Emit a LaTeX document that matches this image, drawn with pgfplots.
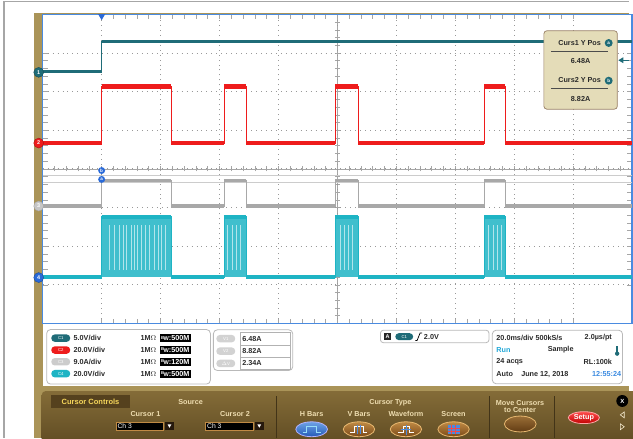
\documentclass[border=0pt]{standalone}
\usepackage{pgfplots}
\pgfplotsset{compat=1.18}
\usepackage{pgfplotstable}
\usepackage{fontspec}
\setmainfont{Liberation Sans}

\definecolor{chA}{HTML}{1F6C78}
\definecolor{chB}{HTML}{EE1C1C}
\definecolor{chC}{HTML}{A8A8A8}
\definecolor{chD}{HTML}{1EB4C4}
\definecolor{frametan}{HTML}{AA9458}
\definecolor{scopeblue}{HTML}{4A8BE0}
\definecolor{markblue}{HTML}{2A6AD8}
\definecolor{bartop}{HTML}{846C38}
\definecolor{barbot}{HTML}{5E4A22}
\definecolor{bartext}{HTML}{EEDDB0}
\definecolor{tabtext}{HTML}{F5D55A}
\definecolor{tabfill}{HTML}{55411E}
\definecolor{boxbeige}{HTML}{E4DCB8}
\definecolor{bronzetop}{HTML}{C08A44}
\definecolor{bronzebot}{HTML}{7A4A18}
\definecolor{bronzeedge}{HTML}{E8B870}
\definecolor{uitext}{HTML}{2A2A2A}
\definecolor{runcyan}{HTML}{22A8D8}
\definecolor{timeblue}{HTML}{3A8AE0}

\newcommand{\ui}{\fontsize{7.3}{8.5}\selectfont\bfseries}
\newcommand{\tinyui}{\fontsize{4.6}{5}\selectfont\bfseries}
\newcommand{\bw}{{\fontsize{4.2}{4}\selectfont\raisebox{1.6pt}{B}}\kern-0.4pt{\fontsize{5.6}{5}\selectfont W}}

% channel data: time (ms, 0 = screen centre) and level (divisions)
\pgfplotstableread{
t y
-100 2.52
-80 3.30
100 3.30
}\chonetab
\pgfplotstableread{
t y
-100 0.67
-80 2.13
-56.5 0.67
-38.5 2.13
-31 0.67
-0.7 2.13
7.1 0.67
49.8 2.13
56.9 0.67
100 0.67
}\chtwotab
\pgfplotstableread{
t y
-100 -0.96
-80 -0.29
-56.5 -0.96
-38.5 -0.29
-31 -0.96
-0.7 -0.29
7.1 -0.96
49.8 -0.29
56.9 -0.96
100 -0.96
}\chthreetab
\pgfplotstableread{
t y
-100 -2.80
-80 -1.24
-56.5 -2.80
-38.5 -1.24
-31 -2.80
-0.7 -1.24
7.1 -2.80
49.8 -1.24
56.9 -2.80
100 -2.80
}\chfourtab

\pgfplotsset{scopeaxis/.style={at={(43pt,-14.5pt)}, anchor=north west,
  scale only axis, width=594pt, height=311.5pt,
  xmin=-100, xmax=100, ymin=-4, ymax=4,
  xticklabels={}, yticklabels={}}}

\begin{document}
\begin{tikzpicture}
\begin{scope}[x=1pt,y=-1pt]
\useasboundingbox (0,0) rectangle (633,440);
\fill[white] (0,0) rectangle (633,440);
\draw[gray!70, line width=1.3pt] (4,441) -- (4,1.6) -- (634,1.6);
\fill[frametan] (34,13) rectangle (634,441);
\fill[white] (43,14) rectangle (634,388.5);
\shade[top color=bartop, bottom color=barbot, rounded corners=4pt] (42,394) rectangle (650,450);
\end{scope}

% centre crosshair
\begin{axis}[scopeaxis, axis lines=middle,
  axis line style={gray!70, line width=0.8pt, -},
  xtick={-96,-92,...,96}, ytick={-3.8,-3.6,...,3.8},
  tick align=center, major tick length=5pt,
  tick style={gray!70, line width=0.7pt}]
\end{axis}

% main scope axis
\begin{axis}[scopeaxis,
  xtick={-80,-60,...,80}, ytick={-3,-2,...,3},
  minor x tick num=4, minor y tick num=4,
  tick align=inside, major tick length=5pt, minor tick length=5pt,
  tick style={gray!70, line width=0.7pt},
  grid=major, major grid style={gray!80, line width=1pt, dash pattern=on 1pt off 4pt},
  axis line style={scopeblue, line width=1.6pt},
  clip mode=individual]
% cursor bars
\addplot[gray!40, line width=1pt] coordinates {(-100,-0.17) (100,-0.17)};
\addplot[gray!40, line width=1pt] coordinates {(-100,-0.35) (100,-0.35)};
% channel 1
\addplot[chA, line width=0.8pt, const plot] table[x=t,y=y] {\chonetab};
\addplot[chA, line width=3.5pt, jump mark left] table[x=t,y=y] {\chonetab};
% channel 2
\addplot[chB, line width=0.8pt, const plot] table[x=t,y=y] {\chtwotab};
\addplot[chB, line width=4.5pt, jump mark left] table[x=t,y=y] {\chtwotab};
% channel 3
\addplot[chC, line width=0.8pt, const plot] table[x=t,y=y] {\chthreetab};
\addplot[chC, line width=3.2pt, jump mark left] table[x=t,y=y] {\chthreetab};
% channel 4 bursts
\addplot[draw=none, fill=chD!85] coordinates {(-80,-2.8) (-80,-1.24) (-56.5,-1.24) (-56.5,-2.8)};
\addplot[draw=none, fill=chD!85] coordinates {(-38.5,-2.8) (-38.5,-1.24) (-31,-1.24) (-31,-2.8)};
\addplot[draw=none, fill=chD!85] coordinates {(-0.7,-2.8) (-0.7,-1.24) (7.1,-1.24) (7.1,-2.8)};
\addplot[draw=none, fill=chD!85] coordinates {(49.8,-2.8) (49.8,-1.24) (56.9,-1.24) (56.9,-2.8)};
\addplot[white, opacity=0.6, line width=0.6pt, unbounded coords=jump] coordinates {
(-77.4,-2.62) (-77.4,-1.45) (-77.4,nan)
(-75.8,-2.62) (-75.8,-1.45) (-75.8,nan)
(-74.1,-2.62) (-74.1,-1.45) (-74.1,nan)
(-72.7,-2.62) (-72.7,-1.45) (-72.7,nan)
(-71.8,-2.62) (-71.8,-1.45) (-71.8,nan)
(-70.1,-2.62) (-70.1,-1.45) (-70.1,nan)
(-69.0,-2.62) (-69.0,-1.45) (-69.0,nan)
(-68.0,-2.62) (-68.0,-1.45) (-68.0,nan)
(-66.4,-2.62) (-66.4,-1.45) (-66.4,nan)
(-65.1,-2.62) (-65.1,-1.45) (-65.1,nan)
(-63.7,-2.62) (-63.7,-1.45) (-63.7,nan)
(-62.3,-2.62) (-62.3,-1.45) (-62.3,nan)
(-60.9,-2.62) (-60.9,-1.45) (-60.9,nan)
(-59.6,-2.62) (-59.6,-1.45) (-59.6,nan)
(-58.3,-2.62) (-58.3,-1.45) (-58.3,nan)
(-37.2,-2.62) (-37.2,-1.45) (-37.2,nan)
(-35.6,-2.62) (-35.6,-1.45) (-35.6,nan)
(-34.3,-2.62) (-34.3,-1.45) (-34.3,nan)
(-32.8,-2.62) (-32.8,-1.45) (-32.8,nan)
(0.8,-2.62) (0.8,-1.45) (0.8,nan)
(2.3,-2.62) (2.3,-1.45) (2.3,nan)
(3.6,-2.62) (3.6,-1.45) (3.6,nan)
(5.2,-2.62) (5.2,-1.45) (5.2,nan)
(51.2,-2.62) (51.2,-1.45) (51.2,nan)
(52.8,-2.62) (52.8,-1.45) (52.8,nan)
(54.2,-2.62) (54.2,-1.45) (54.2,nan)
(55.6,-2.62) (55.6,-1.45)
};
\addplot[chD, line width=0.8pt, const plot] table[x=t,y=y] {\chfourtab};
\addplot[chD, line width=4.5pt, jump mark left] table[x=t,y=y] {\chfourtab};
% trigger marker
\fill[markblue] (axis cs:-80,3.85) -- ++(-3.5pt,6pt) -- ++(7pt,0pt) -- cycle;
% cursor markers
\node[circle, fill=markblue, inner sep=0pt, minimum size=7pt, text=white] at (axis cs:-80,-0.04) {\tinyui b};
\node[circle, fill=markblue, inner sep=0pt, minimum size=7pt, text=white] at (axis cs:-80,-0.27) {\tinyui a};
% channel ground markers
\node[circle, fill=chA, draw=chA!70!black, inner sep=0pt, minimum size=10pt, text=white] at (axis cs:-101.35,2.50) {\fontsize{5.5}{6}\selectfont\bfseries 1};
\node[circle, fill=chB, draw=chB!70!black, inner sep=0pt, minimum size=10pt, text=white] at (axis cs:-101.35,0.67) {\fontsize{5.5}{6}\selectfont\bfseries 2};
\node[circle, fill=gray!45, draw=gray!70, inner sep=0pt, minimum size=10pt, text=white] at (axis cs:-101.35,-0.96) {\fontsize{5.5}{6}\selectfont\bfseries 3};
\node[circle, fill=markblue, draw=markblue!70!black, inner sep=0pt, minimum size=10pt, text=white] at (axis cs:-101.35,-2.81) {\fontsize{5.5}{6}\selectfont\bfseries 4};
\end{axis}

\begin{scope}[x=1pt,y=-1pt]
% cursor readout box
\draw[fill=boxbeige, draw=gray!60!brown, line width=0.7pt, rounded corners=3pt] (548,31) rectangle (622,110);
\node[text=uitext] at (584,43) {\ui Curs1 Y Pos};
\node[circle, fill=chA, inner sep=0pt, minimum size=8pt, text=white] at (613.3,43.3) {\tinyui a};
\draw[gray!60!black, line width=0.6pt] (555,51.7) -- (612.7,51.7);
\node[text=uitext] at (585,61) {\ui 6.48A};
\node[text=uitext] at (584,81) {\ui Curs2 Y Pos};
\node[circle, fill=chA, inner sep=0pt, minimum size=8pt, text=white] at (613.3,81.3) {\tinyui b};
\draw[gray!60!black, line width=0.6pt] (555,89.3) -- (612.7,89.3);
\node[text=uitext] at (585,99.3) {\ui 8.82A};
\fill[chA] (623,60.7) -- (628,57.7) -- (628,63.7) -- cycle;
\draw[chA, line width=0.8pt] (628,60.7) -- (634,60.7);

% channel settings panel
\draw[gray!55, fill=white, rounded corners=4pt, line width=0.8pt] (47,332) rectangle (212,387);
\foreach \yy/\col/\lab/\sc/\bwv in {340.7/chA/C1/{5.0V/div}/500M, 352.7/chB/C2/{20.0V/div}/500M, 364.5/gray!40/C3/{9.0A/div}/120M, 376.5/chD/C4/{20.0V/div}/500M}{
  \node[fill=\col, rounded corners=3.5pt, minimum width=19pt, minimum height=7.5pt, inner sep=0pt, text=white] at (61.2,\yy) {\fontsize{4.3}{4.5}\selectfont\lab};
  \node[anchor=west, text=uitext, inner sep=0pt] at (74,\yy) {\ui\sc};
  \node[anchor=west, text=uitext, inner sep=0pt] at (141.5,\yy) {\ui 1M\(\Omega\)};
  \node[anchor=west, fill=black, text=white, inner sep=0pt, minimum height=8pt, minimum width=31.5pt] at (160.7,\yy) {\ui\bw:\bwv};
}
% cursor values panel
\draw[gray!55, fill=white, rounded corners=4pt, line width=0.8pt] (215,332.3) rectangle (295,373.3);
\draw[gray!60, line width=0.6pt] (242.3,335) rectangle (292.7,372.3);
\draw[gray!60, line width=0.6pt] (242.3,347.6) -- (292.7,347.6) (242.3,360) -- (292.7,360);
\foreach \yy/\lab/\val in {341.2/V1/6.48A, 353.8/V2/8.82A, 366.2/{\(\Delta\)V}/2.34A}{
  \node[fill=gray!35, rounded corners=3.5pt, minimum width=19pt, minimum height=7.5pt, inner sep=0pt, text=white] at (227.5,\yy) {\fontsize{4.3}{4.5}\selectfont\lab};
  \node[anchor=west, text=uitext, inner sep=0pt] at (244,\yy) {\ui\val};
}
% trigger panel
\draw[gray!55, fill=white, rounded corners=3pt, line width=0.8pt] (383.3,332.7) rectangle (492.7,345.3);
\node[fill=black!85, text=white, minimum size=7.5pt, inner sep=0pt] at (390.5,339) {\fontsize{5.5}{6}\selectfont\bfseries A};
\node[fill=chA, rounded corners=3.5pt, minimum width=18pt, minimum height=7pt, inner sep=0pt, text=white] at (407.3,339.2) {\fontsize{4.3}{4.5}\selectfont C1};
\draw[black, line width=0.7pt] (418.5,343) -- (420.3,343) -- (423.3,335.5) -- (425.3,335.5);
\node[anchor=west, text=uitext, inner sep=0pt] at (427,339.3) {\ui 2.0V};
% timebase panel
\draw[gray!55, fill=white, rounded corners=4pt, line width=0.8pt] (496,332.7) rectangle (627.3,386.7);
\node[anchor=west, text=uitext, inner sep=0pt] at (500,340.3) {\ui 20.0ms/div 500kS/s};
\node[anchor=east, text=uitext, inner sep=0pt] at (616.7,340.3) {\ui 2.0\textmu s/pt};
\node[anchor=west, text=runcyan, inner sep=0pt] at (500,352.7) {\ui Run};
\node[anchor=west, text=uitext, inner sep=0pt] at (551.7,352.7) {\ui Sample};
\fill[chA] (620.8,348.5) rectangle (622.8,356);
\fill[chA] (621.8,356.3) circle (2.2);
\node[anchor=west, text=uitext, inner sep=0pt] at (500,364.7) {\ui 24 acqs};
\node[anchor=east, text=uitext, inner sep=0pt] at (616.7,364.7) {\ui RL:100k};
\node[anchor=west, text=uitext, inner sep=0pt] at (500,377.3) {\ui Auto};
\node[anchor=west, text=uitext, inner sep=0pt] at (525,377.3) {\ui June 12, 2018};
\node[anchor=east, text=timeblue, inner sep=0pt] at (626,377.3) {\ui 12:55:24};

% cursor controls bar
\fill[tabfill] (51.7,398.3) rectangle (130.7,410.7);
\node[text=tabtext] at (91.2,404.5) {\fontsize{7.6}{8}\selectfont\bfseries Cursor Controls};
\node[text=bartext] at (192,405.5) {\ui Source};
\node[text=bartext] at (146.5,416.8) {\ui Cursor 1};
\node[text=bartext] at (236.7,416.8) {\ui Cursor 2};
\foreach \xa/\xb/\xc in {116.7/164.3/166.5, 207/255/257}{
  \draw[fill=black, draw=bronzetop, line width=0.6pt] (\xa,425) rectangle (\xb,433.5);
  \node[anchor=west, text=white, inner sep=0pt] at (\xa+1.5,429.3) {\fontsize{6.8}{7}\selectfont Ch 3};
  \fill[black!80!brown] (\xc,425) rectangle (\xc+8.5,433.5);
  \fill[white] (\xc+2.3,427.5) -- (\xc+6.2,427.5) -- (\xc+4.25,431) -- cycle;
}
\foreach \xx in {278.5, 492.7, 558.3}{
  \draw[barbot!70!black, line width=0.9pt] (\xx,399) -- (\xx,441);
}
\node[text=bartext] at (393.3,405.7) {\ui Cursor Type};
\node[text=bartext] at (314,417) {\ui H Bars};
\node[text=bartext] at (361.7,417) {\ui V Bars};
\node[text=bartext] at (409,417) {\ui Waveform};
\node[text=bartext] at (457,417) {\ui Screen};
\shade[top color=scopeblue!80!white, bottom color=markblue!85!black, draw=blue!30!white, line width=0.8pt] (314,432.5) ellipse (16 and 7.5);
\foreach \xx in {361.7, 409, 457}{
  \shade[top color=bronzetop, bottom color=bronzebot, draw=bronzeedge, line width=0.8pt] (\xx,432.5) ellipse (15.8 and 7.5);
}
\draw[cyan!40!white, line width=0.8pt] (305,436) -- (309,436) -- (309,429.5) -- (319,429.5) -- (319,436) -- (323,436);
\draw[white, line width=0.8pt] (353,436) -- (357,436) -- (357,429.5) -- (366,429.5) -- (366,436) -- (370,436);
\draw[scopeblue, line width=0.8pt] (360,428) -- (360,437) (363.5,428) -- (363.5,437);
\draw[white, line width=0.8pt] (401,436) -- (406,436) -- (406,430) -- (412,430) -- (412,436) -- (417,436);
\draw[scopeblue, line width=0.7pt] (409,428) -- (409,438) (404,433) -- (414,433);
\fill[scopeblue] (451,428) rectangle (463,437.5);
\draw[chB!80, line width=0.5pt] (451,431) -- (463,431) (451,434.3) -- (463,434.3) (455,428) -- (455,437.5) (459,428) -- (459,437.5);
\node[text=bartext] at (524,405.7) {\ui Move Cursors};
\node[text=bartext] at (524,413.3) {\ui to Center};
\shade[top color=bronzetop!80!black, bottom color=bronzebot!80!black, draw=bronzeedge, line width=0.8pt] (524.2,427.2) ellipse (16 and 8);
\shade[top color=red!70!white, bottom color=red!75!black, draw=red!35!white, line width=0.8pt] (588.3,420.8) ellipse (15.7 and 6);
\node[text=white] at (588.3,420.8) {\ui Setup};
\fill[black] (627,404) circle (6);
\node[text=white] at (627,404) {\fontsize{6}{6}\selectfont\bfseries X};
\draw[bartext!60, line width=0.6pt] (629,415) -- (625,418) -- (629,421) -- cycle;
\draw[bartext!60, line width=0.6pt] (625,427) -- (629,430) -- (625,433) -- cycle;
\end{scope}
\end{tikzpicture}
\end{document}
